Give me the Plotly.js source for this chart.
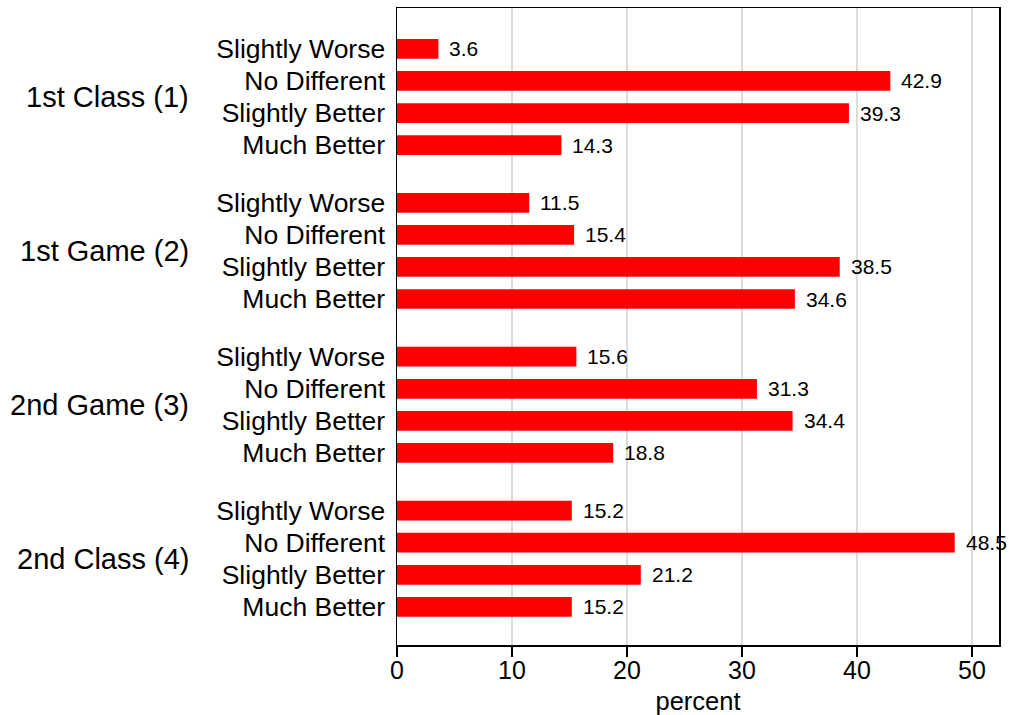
<!DOCTYPE html>
<html>
<head>
<meta charset="utf-8">
<script src="https://cdn.plot.ly/plotly-3.0.1.min.js"></script>
<style>html,body{margin:0;padding:0;background:#fff;}#chart{width:1009px;height:715px;}</style>
</head>
<body>
<div id="chart"></div>
<script>
// Data
var groups = ["1st Class (1)", "1st Game (2)", "2nd Game (3)", "2nd Class (4)"];
var responses = ["Slightly Worse", "No Different", "Slightly Better", "Much Better"];
var firstClass = [3.6, 42.9, 39.3, 14.3];
var firstGame = [11.5, 15.4, 38.5, 34.6];
var secondGame = [15.6, 31.3, 34.4, 18.8];
var secondClass = [15.2, 48.5, 21.2, 15.2];
var xTicks = [0, 10, 20, 30, 40, 50];

var seriesByGroup = [firstClass, firstGame, secondGame, secondClass];
var groupStep = 4.8; // layout: 4 rows plus a gap between groups

var xs = [], ys = [], tickVals = [], tickText = [], annotations = [];
var font = "Liberation Sans, Arial, Helvetica, sans-serif";
seriesByGroup.forEach(function (vals, g) {
  vals.forEach(function (v, i) {
    var pos = g * groupStep + i;
    xs.push(v); ys.push(pos);
    tickVals.push(pos); tickText.push(responses[i]);
    annotations.push({
      x: v, y: pos, xref: "x", yref: "y", text: v.toFixed(1),
      showarrow: false, xanchor: "left", yanchor: "middle", xshift: 9,
      font: {family: font, size: 21, color: "#000"}
    });
  });
  annotations.push({
    x: 0, y: g * groupStep + 1.5, xref: "paper", yref: "y", text: groups[g],
    showarrow: false, xanchor: "right", yanchor: "middle", xshift: -206,
    font: {family: font, size: 29, color: "#000"}
  });
});

var trace = {
  type: "bar", orientation: "h", x: xs, y: ys, width: 0.615,
  marker: {color: "#ff0000", line: {width: 0}},
  hoverinfo: "x+y"
};

var layout = {
  width: 1009, height: 715,
  margin: {l: 397, r: 10, t: 8, b: 70},
  paper_bgcolor: "#fff", plot_bgcolor: "#fff",
  showlegend: false,
  font: {family: font, color: "#000"},
  xaxis: {
    range: [0, 52.35], tickvals: xTicks, ticktext: xTicks.map(String),
    showgrid: true, gridcolor: "#dcdcdc", gridwidth: 1.5, zeroline: false,
    showline: true, linecolor: "#000", linewidth: 1.5, mirror: true,
    ticks: "outside", ticklen: 10, tickwidth: 1.5, tickcolor: "#000",
    ticklabelstandoff: -8,
    tickfont: {family: font, size: 25, color: "#000"},
    title: {text: "percent", font: {family: font, size: 25.5, color: "#000"}, standoff: 11}
  },
  yaxis: {
    range: [3 * groupStep + 3 + 1.19, -1.275],
    tickvals: tickVals, ticktext: tickText,
    showgrid: false, zeroline: false,
    showline: true, linecolor: "#000", linewidth: 1.5, mirror: true,
    ticks: "", ticklabelstandoff: 5,
    tickfont: {family: font, size: 26.5, color: "#000"}
  },
  annotations: annotations
};

Plotly.newPlot("chart", [trace], layout, {displayModeBar: false, staticPlot: true});
</script>
</body>
</html>
